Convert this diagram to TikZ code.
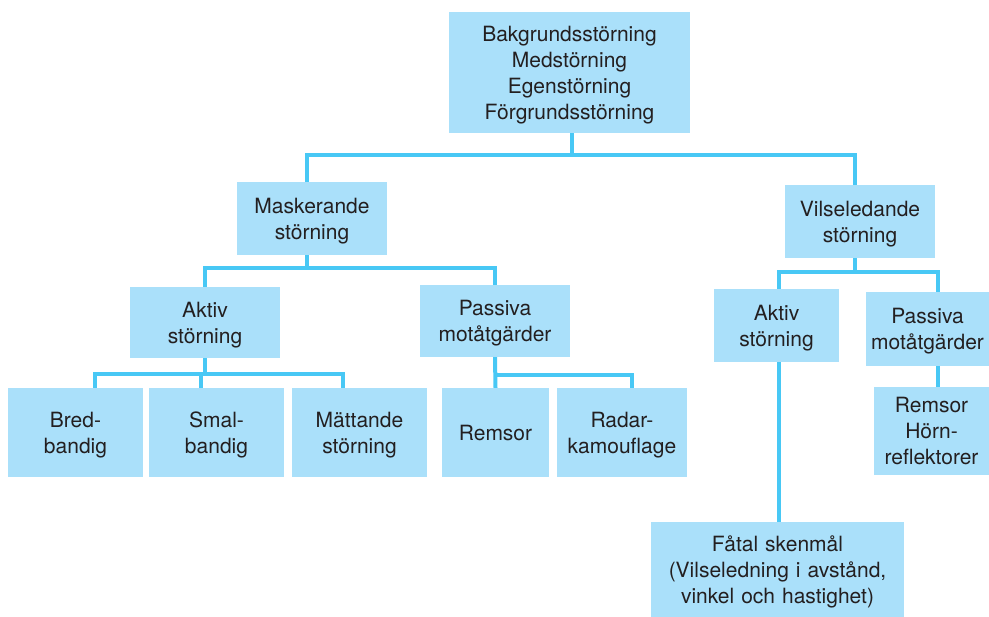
\documentclass[tikz,border=0pt]{standalone}
\usepackage{fontspec}
\setmainfont{TeX Gyre Heros}
\definecolor{boxblue}{RGB}{170,224,250}
\definecolor{linkblue}{RGB}{72,200,245}
\definecolor{inktext}{RGB}{35,31,32}
\begin{document}
\begin{tikzpicture}[x=1pt,y=-1pt,
        box/.style={fill=boxblue,text=inktext,align=center,inner sep=0pt,
            font=\fontsize{21}{26}\selectfont,
            execute at begin node={\rule{0pt}{22pt}},
            execute at end node={\rule[-6pt]{0pt}{6pt}}},
        link/.style={draw=linkblue,line width=4pt}]
        \useasboundingbox (0,0) rectangle (989,617);
        % boxes
        \node[box,text width=241pt,minimum height=121pt] (top) at (569.5,72.5) {Bakgrundsstörning\\Medstörning\\Egenstörning\\Förgrundsstörning};
        \node[box,text width=150pt,minimum height=73pt] (mask) at (312,218.5) {Maskerande\\störning};
        \node[box,text width=150pt,minimum height=73pt] (vils) at (860,221.5) {Vilseledande\\störning};
        \node[box,text width=150pt,minimum height=71pt] (aktivL) at (205,322.5) {Aktiv\\störning};
        \node[box,text width=150pt,minimum height=72pt] (passL) at (495,321) {Passiva\\motåtgärder};
        \node[box,text width=135pt,minimum height=89pt] (bred) at (75.5,432.5) {Bred-\\bandig};
        \node[box,text width=135pt,minimum height=89pt] (smal) at (216.5,432.5) {Smal-\\bandig};
        \node[box,text width=135pt,minimum height=89pt] (matt) at (359.5,432.5) {Mättande\\störning};
        \node[box,text width=107pt,minimum height=89pt] (remsL) at (495.5,432.5) {Remsor};
        \node[box,text width=130pt,minimum height=89pt] (radar) at (622,432.5) {Radar-\\kamouflage};
        \node[box,text width=125pt,minimum height=73pt] (aktivR) at (776.5,325.5) {Aktiv\\störning};
        \node[box,text width=123pt,minimum height=74pt] (passR) at (927.5,329) {Passiva\\motåtgärder};
        \node[box,text width=115pt,minimum height=88pt] (remsR) at (931.5,431) {Remsor\\Hörn-\\reflektorer};
        \node[box,text width=253pt,minimum height=95pt] (fatal) at (777.5,569.5) {Fåtal skenmål\\(Vilseledning i avstånd,\\vinkel och hastighet)};
        % bus levels
        \coordinate (busT) at (0,155);
        \coordinate (busM) at (0,268);
        \coordinate (busV) at (0,272);
        \coordinate (busA) at (0,374);
        \coordinate (busP) at (0,375);
        % connectors
        \draw[link] ([xshift=2]top.south) -- ([xshift=2]top.south |- busT);
        \draw[link] ([xshift=-5]mask.north) |- ([xshift=-5]vils.north |- busT) -- ([xshift=-5]vils.north);
        \draw[link] ([xshift=-5]mask.south) -- ([xshift=-5]mask.south |- busM);
        \draw[link] (aktivL.north) |- (passL.north |- busM) -- (passL.north);
        \draw[link] ([xshift=-5]vils.south) -- ([xshift=-5]vils.south |- busV);
        \draw[link] ([xshift=2]aktivR.north) |- ([xshift=10]passR.north |- busV) -- ([xshift=10]passR.north);
        \draw[link] (aktivL.south) -- (aktivL.south |- busA);
        \draw[link] ([xshift=19]bred.north) |- ([xshift=-17]matt.north |- busA) -- ([xshift=-17]matt.north);
        \draw[link] ([xshift=-16]smal.north) -- ([xshift=-16]smal.north |- busA);
        \draw[link] (passL.south) -- (remsL.north);
        \draw[link] (passL.south |- busP) -| ([xshift=10]radar.north);
        \draw[link] ([xshift=10]passR.south) -- ([xshift=10]passR.south |- remsR.north);
        \draw[link] ([xshift=2]aktivR.south) -- ([xshift=2]aktivR.south |- fatal.north);
\end{tikzpicture}
\end{document}
